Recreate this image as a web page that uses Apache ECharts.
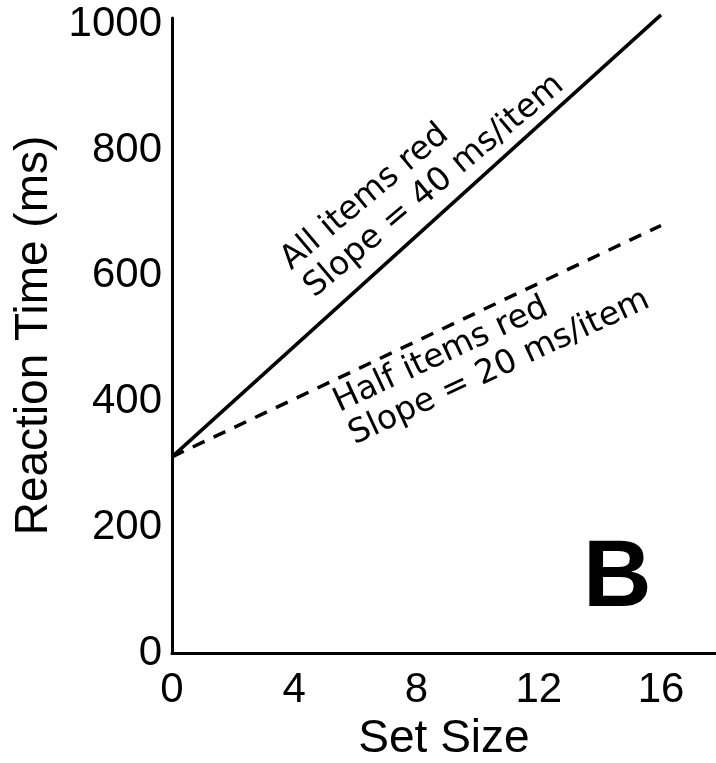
<!DOCTYPE html>
<html>
<head>
<meta charset="utf-8">
<script src="https://cdn.jsdelivr.net/npm/echarts@6/dist/echarts.min.js"></script>
<style>
  html, body { margin: 0; padding: 0; background: #fff; }
  #chart { width: 716px; height: 763px; }
</style>
</head>
<body>
<div id="chart"></div>
<script>
// set size (items) and reaction time (ms)
var setSizes = [0, 16];
var allRed = [312, 1015];
var halfRed = [312, 680];
var xTicks = [0, 4, 8, 12, 16];
var yTicks = [0, 200, 400, 600, 800, 1000];

var FONT = "Liberation Sans";

var chart = echarts.init(document.getElementById("chart"));

function pairs(xs, ys) {
  return xs.map(function (x, i) { return [x, ys[i]]; });
}

chart.setOption({
  animation: false,
  grid: { left: 172, right: 0, top: 18, bottom: 110, outerBoundsMode: "none" },
  xAxis: {
    type: "value",
    min: 0,
    max: 17.8,
    interval: 4,
    name: "Set Size",
    nameLocation: "middle",
    nameGap: 85,
    nameTextStyle: { fontFamily: FONT, fontSize: 46, color: "#000", verticalAlign: "middle" },
    axisLine: { show: true, lineStyle: { color: "#000", width: 3 } },
    axisTick: { show: false },
    splitLine: { show: false },
    axisLabel: {
      fontFamily: FONT, fontSize: 42, color: "#000", margin: 16,
      formatter: function (v) { return xTicks.indexOf(v) >= 0 ? String(v) : ""; }
    }
  },
  yAxis: {
    type: "value",
    min: 0,
    max: 1010,
    interval: 200,
    name: "Reaction Time (ms)",
    nameLocation: "middle",
    nameGap: 137,
    nameTextStyle: { fontFamily: FONT, fontSize: 46, color: "#000", verticalAlign: "middle" },
    axisLine: { show: true, lineStyle: { color: "#000", width: 3 } },
    axisTick: { show: false },
    splitLine: { show: false },
    axisLabel: {
      fontFamily: FONT, fontSize: 42, color: "#000", margin: 10,
      formatter: function (v) { return yTicks.indexOf(v) >= 0 ? String(v) : ""; }
    }
  },
  series: [
    {
      name: "All items red",
      type: "line",
      clip: false,
      symbol: "none",
      data: pairs(setSizes, allRed),
      lineStyle: { color: "#000", width: 3.5 }
    },
    {
      name: "Half items red",
      type: "line",
      clip: false,
      symbol: "none",
      data: pairs(setSizes, halfRed),
      lineStyle: { color: "#000", width: 3.5, type: [13, 10] }
    }
  ]
});

// annotations anchored in data space (bottom-left of each text block)
var p1 = chart.convertToPixel({ gridIndex: 0 }, [4.85, 553]);
var p2 = chart.convertToPixel({ gridIndex: 0 }, [6.1, 318]);

chart.setOption({
  graphic: [
    {
      type: "text", x: p1[0], y: p1[1], rotation: 40 * Math.PI / 180,
      style: {
        text: "All items red\nSlope = 40 ms/item",
        font: "33px 'DejaVu Sans'", lineHeight: 36,
        fill: "#000", align: "left", verticalAlign: "bottom"
      }
    },
    {
      type: "text", x: p2[0], y: p2[1], rotation: 25 * Math.PI / 180,
      style: {
        text: "Half items red\nSlope = 20 ms/item",
        font: "33px 'DejaVu Sans'", lineHeight: 36,
        fill: "#000", align: "left", verticalAlign: "bottom"
      }
    },
    {
      type: "text", left: 583, top: 532,
      style: { text: "B", font: "bold 95px 'Liberation Sans'", fill: "#000" }
    }
  ]
});
</script>
</body>
</html>
